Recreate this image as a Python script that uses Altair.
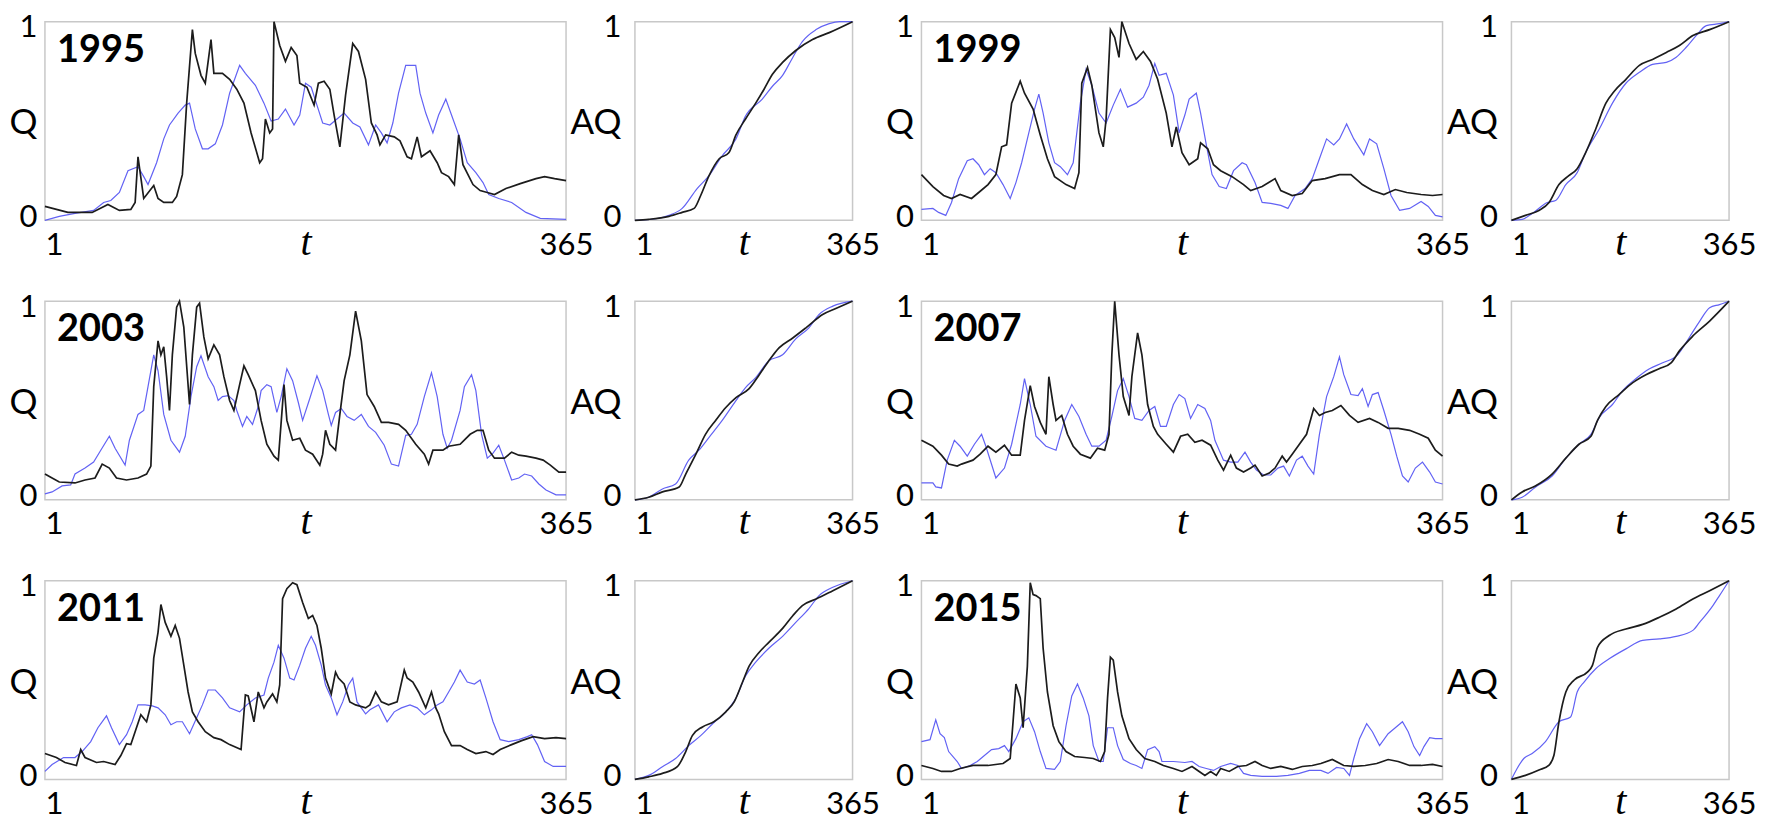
import altair as alt
import pandas as pd

# ---------------- Q panels (daily flow, normalised) ----------------
# 1995
Q95_B_T = [1,17,34,45,53,61,64,66,70,77,80,84,90,93,97,100,104,106,110,113,117,119,125,130,135,140,145,151,153,155,158,160,161,165,169,173,177,179,184,189,192,196,200,203,207,211,216,220,225,229,233,235,239,245,249,254,257,261,264,270,275,278,283,287,290,293,300,305,310,315,323,333,344,350,357,365]
Q95_B_V = [0.07,0.04,0.04,0.08,0.05,0.055,0.09,0.32,0.11,0.175,0.11,0.09,0.09,0.12,0.23,0.59,0.96,0.84,0.73,0.69,0.91,0.74,0.74,0.71,0.66,0.59,0.44,0.29,0.31,0.51,0.44,0.46,1.0,0.88,0.80,0.87,0.83,0.69,0.67,0.58,0.69,0.70,0.66,0.53,0.37,0.63,0.89,0.85,0.71,0.49,0.43,0.38,0.43,0.42,0.40,0.32,0.31,0.42,0.32,0.35,0.29,0.24,0.22,0.18,0.43,0.28,0.18,0.15,0.14,0.13,0.16,0.185,0.21,0.22,0.21,0.2]
Q95_S_T = [1,11,22,35,42,47,53,59,66,70,73,79,84,88,94,99,102,106,111,115,120,125,130,137,141,148,154,159,164,169,175,179,183,187,191,195,200,205,210,216,221,227,232,236,240,244,248,253,260,263,267,272,276,281,285,291,296,302,307,311,318,327,337,347,365]
Q95_S_V = [0.0,0.02,0.035,0.05,0.09,0.1,0.14,0.25,0.27,0.22,0.18,0.29,0.41,0.48,0.54,0.58,0.59,0.46,0.36,0.36,0.385,0.48,0.64,0.78,0.74,0.68,0.59,0.5,0.51,0.56,0.48,0.53,0.69,0.67,0.58,0.49,0.48,0.51,0.54,0.49,0.47,0.38,0.48,0.44,0.39,0.49,0.64,0.78,0.78,0.64,0.54,0.44,0.53,0.61,0.53,0.41,0.29,0.24,0.19,0.13,0.11,0.09,0.04,0.01,0.005]
# 1999
Q99_B_T = [1,9,16.5,22,28,36,41,47.5,53,57,60.5,64,70,73,79,84,89,94,102,108,111,113,117,120,125,128,130,133,136,139,141,146,151,156,161,166,172,176,179,183,188,194,196,201,205,210,218,226,231,239,248,252,260,267,274,283,293,301,309,316,324,332,340,350,358,365]
Q99_B_V = [0.23,0.17,0.125,0.11,0.13,0.11,0.14,0.18,0.23,0.37,0.38,0.59,0.70,0.64,0.56,0.43,0.31,0.22,0.18,0.16,0.24,0.69,0.77,0.68,0.44,0.37,0.51,0.96,0.92,0.82,1.0,0.89,0.81,0.85,0.80,0.71,0.54,0.37,0.47,0.34,0.28,0.31,0.39,0.36,0.28,0.25,0.22,0.18,0.15,0.17,0.21,0.15,0.125,0.135,0.2,0.21,0.23,0.23,0.18,0.15,0.13,0.155,0.14,0.13,0.125,0.13]
Q99_S_T = [1,9,13,18,22,27,33,37,41,45,49,53,58,63,67,71,76,80,83,86,90,94,98,103,107,112,116,120,125,130,135,140,145,151,156,160,164,167,172,177,181,185,188,193,196,200,204,209,214,219,225,228,234,239,245,252,257,262,269,274,279,284,289,293,298,303,310,314,319,324,329,335,342,350,355,360,365]
Q99_S_V = [0.055,0.06,0.04,0.025,0.09,0.21,0.30,0.31,0.28,0.23,0.26,0.24,0.18,0.11,0.19,0.29,0.44,0.56,0.635,0.54,0.39,0.29,0.27,0.23,0.29,0.59,0.76,0.68,0.54,0.49,0.58,0.66,0.57,0.59,0.62,0.68,0.79,0.73,0.74,0.63,0.44,0.53,0.61,0.64,0.54,0.38,0.23,0.17,0.16,0.25,0.29,0.28,0.19,0.09,0.085,0.075,0.06,0.125,0.16,0.21,0.31,0.41,0.38,0.41,0.485,0.41,0.33,0.41,0.385,0.26,0.125,0.05,0.06,0.095,0.07,0.025,0.017]
# 2003
Q03_B_T = [1,6,11,22,29,36,41,46,51,58,66,72,75,77,80,82,84,86,88,90,93,95,98,102,104,107,109,112,115,119,123,126,130,133,137,140,143,148,152,156,161,164,168,170,174,179,183,188,193,195,197,200,204,207,210,214,218,222,226,231,236,241,248,253,260,266,269,272,279,283,291,298,303,307,311,315,322,327,332,337,344,349,354,360,365]
Q03_B_V = [0.13,0.11,0.09,0.085,0.1,0.11,0.18,0.16,0.11,0.1,0.11,0.13,0.17,0.57,0.8,0.73,0.77,0.62,0.45,0.73,0.97,1.0,0.87,0.48,0.73,0.97,0.99,0.82,0.71,0.78,0.73,0.62,0.5,0.45,0.58,0.675,0.63,0.55,0.4,0.28,0.22,0.2,0.58,0.4,0.3,0.31,0.25,0.23,0.175,0.23,0.35,0.28,0.25,0.43,0.6,0.73,0.95,0.8,0.53,0.47,0.39,0.39,0.38,0.35,0.28,0.23,0.18,0.25,0.25,0.27,0.28,0.33,0.35,0.35,0.25,0.21,0.21,0.24,0.225,0.22,0.21,0.2,0.175,0.14,0.14]
Q03_S_T = [1,6,13,19,22,29,35,40,46,50,57,60,66,70,73,77,80,84,89,95,99,103,107,110,115,119,122,125,129,133,135,139,142,146,150,152,156,159,163,166,170,174,178,181,186,191,195,199,201,204,208,212,217,222,227,232,238,243,248,253,257,261,266,271,275,279,282,285,291,294,299,302,306,310,314,318,322,327,332,336,341,346,351,358,365]
Q03_S_V = [0.03,0.04,0.07,0.075,0.13,0.16,0.19,0.25,0.32,0.26,0.175,0.3,0.43,0.45,0.57,0.73,0.65,0.43,0.3,0.24,0.32,0.52,0.67,0.725,0.62,0.57,0.5,0.52,0.525,0.5,0.45,0.37,0.42,0.38,0.47,0.55,0.58,0.57,0.44,0.52,0.66,0.6,0.49,0.4,0.51,0.625,0.55,0.43,0.375,0.44,0.46,0.42,0.4,0.43,0.37,0.34,0.275,0.18,0.17,0.325,0.33,0.38,0.52,0.64,0.52,0.33,0.26,0.3,0.45,0.57,0.63,0.55,0.33,0.21,0.235,0.275,0.2,0.1,0.11,0.13,0.12,0.08,0.05,0.025,0.025]
# 2007
Q07_B_T = [1,9,15,20,26,29,37,42,47.5,53,59,64,70,73,77,80,84,88,90,93,95,99,103,107,112,119,124,129,132,134,136,139,142,146,148,152,155,159,163,166,172,177,182,187,192,197,203,208,212,217,221,226,231,234,239,244,248,253,256,260,265,270,275,279,283,288,294,300,306,314,320,327,334,342,349,355,360,365]
Q07_B_V = [0.3,0.27,0.225,0.18,0.17,0.18,0.2,0.23,0.27,0.24,0.275,0.225,0.225,0.4,0.575,0.47,0.39,0.33,0.62,0.48,0.4,0.425,0.33,0.27,0.23,0.21,0.26,0.25,0.33,0.73,1.0,0.73,0.52,0.425,0.62,0.84,0.73,0.48,0.37,0.33,0.28,0.24,0.32,0.33,0.29,0.3,0.275,0.2,0.15,0.225,0.16,0.14,0.16,0.175,0.12,0.135,0.16,0.22,0.19,0.23,0.28,0.33,0.46,0.425,0.44,0.45,0.475,0.425,0.39,0.41,0.39,0.36,0.36,0.35,0.33,0.31,0.25,0.22]
Q07_S_T = [1,9,11,15,19,24,28,33,38,43,46,53,59,64,70,73,77,81,88,95,101,106,111,116,120,125,130,134,138,142,146,150,155,160,164,168,172,177,181,185,189,194,199,203,206,212,217,222,227,231,235,240,245,250,254,258,263,267,271,275,279,284,289,293,296,301,306,309,313,316,320,324,329,333,337,341,346,351,356,360,365]
Q07_S_V = [0.085,0.085,0.065,0.06,0.2,0.3,0.27,0.22,0.28,0.33,0.27,0.11,0.16,0.28,0.48,0.61,0.48,0.32,0.27,0.25,0.4,0.48,0.42,0.33,0.27,0.27,0.3,0.42,0.55,0.61,0.52,0.41,0.4,0.45,0.47,0.37,0.37,0.48,0.53,0.51,0.41,0.48,0.46,0.4,0.3,0.2,0.19,0.19,0.24,0.19,0.15,0.125,0.125,0.16,0.17,0.12,0.2,0.22,0.17,0.13,0.33,0.52,0.62,0.72,0.63,0.53,0.525,0.56,0.47,0.53,0.54,0.45,0.33,0.22,0.12,0.09,0.16,0.19,0.14,0.09,0.08]
# 2011
Q11_B_T = [1,9,15,23,26,29,37,42,50,54,58,61,64,68,72,75,77,80,82,85,89,92,95,98,101,104,108,113,119,124,130,138,141,143,147,150,154,156,160,163,165,167,170,174,177,181,185,188,191,194,197,201,204,206,210,214,218,225,228,232,236,241,247,252,254,258,262,267,271,274,276,280,285,291,296,302,309,314,319,327,334,342,350,358,365]
Q11_B_V = [0.13,0.11,0.085,0.07,0.15,0.11,0.085,0.09,0.075,0.12,0.18,0.175,0.24,0.325,0.29,0.375,0.61,0.74,0.88,0.79,0.72,0.775,0.71,0.575,0.44,0.34,0.29,0.24,0.21,0.2,0.175,0.15,0.425,0.42,0.29,0.44,0.36,0.39,0.43,0.39,0.475,0.91,0.96,0.99,0.98,0.89,0.81,0.825,0.775,0.66,0.51,0.43,0.54,0.51,0.48,0.39,0.375,0.36,0.375,0.44,0.39,0.375,0.39,0.55,0.51,0.49,0.44,0.36,0.44,0.36,0.33,0.24,0.17,0.17,0.15,0.13,0.14,0.125,0.15,0.175,0.195,0.215,0.205,0.21,0.205]
Q11_S_T = [1,6,14,22,27,33,38,44,47.5,53,58,62,66,71,76,80,85,89,93,97,102,107,111,115,120,125,130,137,142,148,154,157,161,164,168,172,175,179,183,187,190,194,197,201,205,209,213,216,219,225,228,234,240,245,250,256,261,266,271,275,279,283,287,291,296,301,305,309,314,319,325,332,338,341,345,350,356,365]
Q11_S_V = [0.04,0.075,0.11,0.11,0.14,0.19,0.26,0.32,0.26,0.175,0.225,0.29,0.375,0.375,0.37,0.36,0.325,0.275,0.29,0.29,0.23,0.31,0.375,0.45,0.45,0.41,0.36,0.34,0.375,0.41,0.425,0.51,0.59,0.675,0.61,0.51,0.5,0.575,0.66,0.72,0.675,0.575,0.475,0.41,0.325,0.39,0.475,0.51,0.39,0.33,0.35,0.375,0.29,0.34,0.36,0.375,0.36,0.325,0.35,0.375,0.39,0.44,0.49,0.55,0.49,0.48,0.5,0.41,0.29,0.2,0.19,0.2,0.215,0.225,0.175,0.09,0.065,0.065]
# 2015
Q15_B_T = [1,9,15,22,28,37,47.5,58,63,65,67,70,72,75,77,79,81,84,86,89,93,97,102,108,115,121,126,129,131,133,135,138,141,146,151,157,164,170,177,183,190,195,199,203,207,210,216,222,228,234,239,245,252,260,267,274,280,288,296,303,311,319,327,334,342,350,358,365]
Q15_B_V = [0.07,0.055,0.04,0.04,0.055,0.07,0.07,0.08,0.105,0.29,0.48,0.41,0.26,0.57,0.99,0.93,0.925,0.91,0.66,0.44,0.27,0.19,0.14,0.115,0.11,0.105,0.09,0.14,0.41,0.615,0.6,0.44,0.32,0.205,0.15,0.105,0.09,0.07,0.055,0.04,0.065,0.04,0.02,0.04,0.02,0.055,0.04,0.065,0.07,0.09,0.07,0.055,0.065,0.05,0.065,0.07,0.08,0.1,0.07,0.065,0.07,0.08,0.1,0.09,0.07,0.07,0.075,0.065]
Q15_S_T = [1,7,11,14,17,20,26,29,35,40,45,50,55,59,62,67,72,76,80,84,88,94,98,102,106,110,114,118,121,125,128,131,135,138,142,147,151,155,159,164,167,169,177,185,190,195,200,205,210,217,222,226,231,239,249,257,265,272,280,285,291,296,300,303,307,312,316,321,327,332,337,341,345,349,352,356,360,365]
Q15_S_V = [0.19,0.2,0.3,0.23,0.21,0.14,0.09,0.055,0.07,0.09,0.12,0.15,0.155,0.17,0.14,0.205,0.29,0.31,0.24,0.14,0.055,0.05,0.09,0.27,0.42,0.48,0.41,0.32,0.17,0.09,0.09,0.26,0.26,0.17,0.1,0.08,0.07,0.055,0.15,0.165,0.14,0.09,0.09,0.085,0.09,0.065,0.055,0.045,0.065,0.08,0.07,0.03,0.02,0.015,0.015,0.02,0.03,0.045,0.045,0.03,0.06,0.055,0.02,0.105,0.205,0.28,0.24,0.17,0.23,0.26,0.29,0.24,0.165,0.12,0.165,0.21,0.205,0.205]

# ---------------- AQ panels (accumulated flow, normalised) ----------------
A95_B_T = [1,24,58,80,100,111,125,142,158,170,186,203,217,231,248,270,298,326,365]
A95_B_V = [0,0.005,0.02,0.04,0.06,0.125,0.225,0.31,0.34,0.43,0.51,0.59,0.66,0.735,0.795,0.855,0.91,0.945,1.0]
A95_S_T = [1,36,58,80,105,125,147,170,186,214,231,248,265,281,304,326,343,365]
A95_S_V = [0,0.008,0.025,0.06,0.16,0.225,0.325,0.41,0.525,0.61,0.675,0.73,0.82,0.9,0.96,0.99,1.0,1.0]
A99_B_T = [1,24.5,47,64,80.5,97,111,125,142,159,173,192.5,215,237,260,282,304.5,332.5,365]
A99_B_V = [0,0.025,0.05,0.09,0.18,0.225,0.26,0.34,0.46,0.59,0.65,0.71,0.78,0.81,0.845,0.88,0.93,0.96,1.0]
A99_S_T = [1,19,36,61,75,92,111,125,148,170,192.5,215,237,260,276,293,310,327,349,365]
A99_S_V = [0,0.005,0.035,0.09,0.1,0.18,0.24,0.34,0.46,0.59,0.69,0.745,0.785,0.795,0.82,0.87,0.93,0.98,0.99,1.0]
A03_B_T = [1,24,47,75,86,103,119,136,153,170,192,209,225,242,265,287,315,337,365]
A03_B_V = [0,0.013,0.04,0.065,0.13,0.23,0.33,0.4,0.465,0.515,0.56,0.63,0.7,0.765,0.815,0.866,0.933,0.963,1.0]
A03_S_T = [1,24,47,69,91,108,125,147,170,186,203,225,248,270,292,309,332,365]
A03_S_V = [0,0.013,0.055,0.08,0.2,0.25,0.315,0.4,0.5,0.565,0.615,0.7,0.73,0.81,0.866,0.933,0.975,1.0]
A07_B_T = [1,19,41,69,92,114,134,145,159,181,204,226,248,268,282,304.5,332.5,365]
A07_B_V = [0,0.04,0.07,0.13,0.21,0.28,0.32,0.4,0.47,0.53,0.59,0.63,0.66,0.69,0.75,0.825,0.9,1.0]
A07_S_T = [1,19,41,69,92,114,134,148,170,187,209,232,254,279,299,316,332.5,349,365]
A07_S_V = [0,0.013,0.064,0.12,0.21,0.28,0.33,0.415,0.48,0.55,0.61,0.66,0.69,0.73,0.82,0.9,0.967,0.983,1.0]
A11_B_T = [1,24,47,72,86,97,114,133,153,167,181,192,209,225,248,265,281,304,332,365]
A11_B_V = [0,0.013,0.03,0.064,0.14,0.22,0.264,0.29,0.34,0.39,0.49,0.57,0.64,0.69,0.76,0.824,0.875,0.908,0.95,1.0]
A11_S_T = [1,24,47,69,91,111,131,153,170,186,203,225,248,270,292,309,332,365]
A11_S_V = [0,0.02,0.064,0.105,0.17,0.22,0.28,0.34,0.41,0.52,0.59,0.66,0.72,0.79,0.86,0.925,0.967,1.0]
A15_B_T = [1,24.5,47,64,72,80.5,92,106,128,136.5,145,164.5,192.5,220.5,248.5,276.5,304.5,332.5,365]
A15_B_V = [0,0.02,0.047,0.072,0.12,0.29,0.44,0.5,0.54,0.574,0.665,0.724,0.757,0.78,0.816,0.858,0.908,0.95,1.0]
A15_S_T = [1,10.5,21.7,35.7,58,80.5,100,111,122.5,142,164.5,192.5,220.5,248.5,276.5,304.5,315.7,338,349,365]
A15_S_V = [0,0.055,0.105,0.13,0.19,0.29,0.314,0.44,0.49,0.557,0.607,0.657,0.7,0.707,0.72,0.75,0.79,0.875,0.925,1.0]

YEARS = ["1995", "1999", "2003", "2007", "2011", "2015"]
Q_SERIES = [(Q95_B_T, Q95_B_V, Q95_S_T, Q95_S_V), (Q99_B_T, Q99_B_V, Q99_S_T, Q99_S_V),
            (Q03_B_T, Q03_B_V, Q03_S_T, Q03_S_V), (Q07_B_T, Q07_B_V, Q07_S_T, Q07_S_V),
            (Q11_B_T, Q11_B_V, Q11_S_T, Q11_S_V), (Q15_B_T, Q15_B_V, Q15_S_T, Q15_S_V)]
A_SERIES = [(A95_B_T, A95_B_V, A95_S_T, A95_S_V), (A99_B_T, A99_B_V, A99_S_T, A99_S_V),
            (A03_B_T, A03_B_V, A03_S_T, A03_S_V), (A07_B_T, A07_B_V, A07_S_T, A07_S_V),
            (A11_B_T, A11_B_V, A11_S_T, A11_S_V), (A15_B_T, A15_B_V, A15_S_T, A15_S_V)]

QW, AW, H = 522, 218, 199
FONT = "Lato"
BLACK = "#1c1c1c"
BLUE = "#6262f4"


def x_axis(width):
    return alt.Axis(values=[1, 365], format="d", title="t", grid=False, domain=False, ticks=False, tickSize=0,
                    labelFont=FONT, labelFontSize=31, labelColor="black", labelBaseline="alphabetic",
                    labelPadding=34, labelFlush=False, labelOverlap=False,
                    labelAlign={"condition": {"test": "datum.value < 100", "value": "left"}, "value": "center"},
                    titleFont="Liberation Serif", titleFontStyle="italic", titleFontWeight="normal",
                    titleFontSize=40, titleColor="black", titleX=width / 2, titleY=34,
                    titleAlign="center", titleBaseline="alphabetic")


def y_axis(title, pad):
    return alt.Axis(values=[0, 1], format="d", title=title, grid=False, domain=False, ticks=False, tickSize=0,
                    labelFont=FONT, labelFontSize=31, labelColor="black", labelPadding=pad,
                    labelBaseline="middle", labelFlush=False, labelOverlap=False,
                    labelOffset={"condition": {"test": "datum.value > 0.5", "value": 6}, "value": -3},
                    titleFont=FONT, titleFontSize=35, titleFontWeight="normal", titleColor="black",
                    titleAngle=0, titleAlign="right", titleBaseline="middle",
                    titleX=-pad, titleY=H / 2 + 2)


def panel(series, width, ytitle, pad, year=None, interp="linear"):
    tb, vb, ts, vs = series
    dfb = pd.DataFrame({"t": tb, "v": vb})
    dfs = pd.DataFrame({"t": ts, "v": vs})
    x = alt.X("t:Q", scale=alt.Scale(domain=[1, 365], nice=False, zero=False), axis=x_axis(width))
    y = alt.Y("v:Q", scale=alt.Scale(domain=[0, 1], nice=False), axis=y_axis(ytitle, pad))
    blue = alt.Chart(dfs).mark_line(color=BLUE, strokeWidth=1.2, interpolate=interp).encode(x=x, y=y)
    black = alt.Chart(dfb).mark_line(color=BLACK, strokeWidth=1.7, interpolate=interp).encode(x=x, y=y)
    layers = [blue, black]
    if year is not None:
        txt = alt.Chart(pd.DataFrame({"label": [year]})).mark_text(
            font=FONT, fontSize=38, fontWeight="bold", align="left", baseline="alphabetic", color="black"
        ).encode(text="label:N", x=alt.value(12), y=alt.value(40))
        layers.append(txt)
    return alt.layer(*layers).properties(width=width, height=H)


panels = []
for i, yr in enumerate(YEARS):
    panels.append(panel(Q_SERIES[i], QW, "Q", 8, year=yr))
    panels.append(panel(A_SERIES[i], AW, "AQ", 14, interp="monotone"))

chart = alt.concat(*panels, columns=4, spacing={"row": 81, "column": 69},
                   bounds="flush", align="each").configure_view(
    stroke="#c8c8c8", strokeWidth=1.5
).properties(padding={"left": 0, "top": 2, "right": 4, "bottom": 2}, background="white")

chart.save("out.html", embed_options={"renderer": "svg", "actions": False})
